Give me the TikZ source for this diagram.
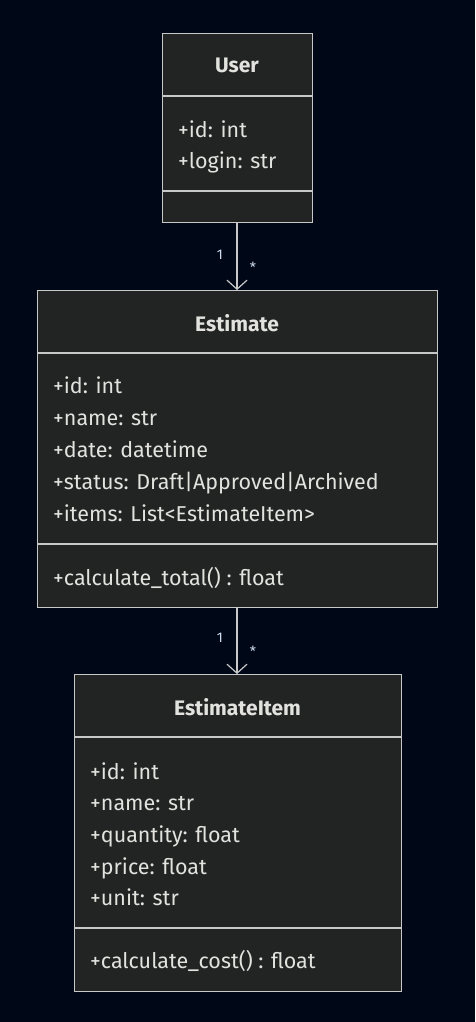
\documentclass[tikz,border=0pt]{standalone}
\usepackage{fontspec}
\setmainfont{Fira Sans}
\usetikzlibrary{arrows.meta}
\definecolor{bgnavy}{HTML}{000818}
\definecolor{boxfill}{HTML}{222323}
\definecolor{boxline}{HTML}{C8C8C8}
\definecolor{txt}{HTML}{E2E2DE}
\definecolor{lbl}{HTML}{D0DCF0}
\tikzset{
  classbox/.style={draw=boxline, fill=boxfill, line width=1.4pt, inner sep=0pt, anchor=north west},
  classtitle/.style={text=txt, inner sep=0pt, text height=20pt, text depth=4pt, font=\bfseries\fontsize{21}{24}\selectfont},
  member/.style={text=txt, anchor=west, inner sep=0pt, text height=20pt, text depth=4pt, font=\fontsize{21.5}{24}\selectfont},
  multlabel/.style={text=lbl, font=\fontsize{14}{16}\selectfont},
  divider/.style={draw=boxline, line width=1.2pt},
  assoc/.style={draw=boxline, line width=1.2pt, -{Straight Barb[length=9pt,width=20pt]}},
}

\begin{document}
\begin{tikzpicture}[x=1pt, y=-1pt]
		%%%%% BACKGROUND %%%%%
		\useasboundingbox[fill=bgnavy] (0,0) rectangle (475,1022);
		
		%%%%% USER %%%%%
		\node[classbox, minimum width=150pt, minimum height=189pt] (user) at (162,33) {};
		\draw[divider] (162,96) -- (312,96);
		\draw[divider] (162,191) -- (312,191);
		\node[classtitle] (usertitle) at (237,65) {User};
		\node[member] (userid) at (178,129) {+id: int};
		\node[member] (userlogin) at (178,160) {+login: str};
		
		%%%%% ESTIMATE %%%%%
		\node[classbox, minimum width=400pt, minimum height=317pt] (estimate) at (37,290) {};
		\draw[divider] (37,353) -- (437,353);
		\draw[divider] (37,544) -- (437,544);
		\node[classtitle] (esttitle) at (237,323) {Estimate};
		\node[member] (estid) at (53,385) {+id: int};
		\node[member] (estname) at (53,417) {+name: str};
		\node[member] (estdate) at (53,449) {+date: datetime};
		\node[member] (eststatus) at (53,481) {+status: Draft|Approved|Archived};
		\node[member] (estitems) at (53,513) {+items: List<EstimateItem>};
		\node[member] (esttotal) at (53,577) {+calculate\_total() : float};
		
		%%%%% ESTIMATEITEM %%%%%
		\node[classbox, minimum width=327pt, minimum height=317pt] (item) at (74,674) {};
		\draw[divider] (74,737) -- (401,737);
		\draw[divider] (74,928) -- (401,928);
		\node[classtitle] (itemtitle) at (237.5,707) {EstimateItem};
		\node[member] (itemid) at (90,771) {+id: int};
		\node[member] (itemname) at (90,802) {+name: str};
		\node[member] (itemqty) at (90,834) {+quantity: float};
		\node[member] (itemprice) at (90,866) {+price: float};
		\node[member] (itemunit) at (90,897) {+unit: str};
		\node[member] (itemcost) at (90,960) {+calculate\_cost() : float};
		
		%%%%% ASSOCIATIONS %%%%%
		\draw[assoc] (user.south -| 237,0) -- (estimate.north -| 237,0);
		\node[multlabel] (userone) at (220,255) {1};
		\node[multlabel] (estmany) at (253,267) {*};
		
		\draw[assoc] (estimate.south -| 237,0) -- (item.north -| 237,0);
		\node[multlabel] (estone) at (220,638) {1};
		\node[multlabel] (itemmany) at (253,651) {*};
		%%%%% END %%%%%
\end{tikzpicture}
\end{document}
